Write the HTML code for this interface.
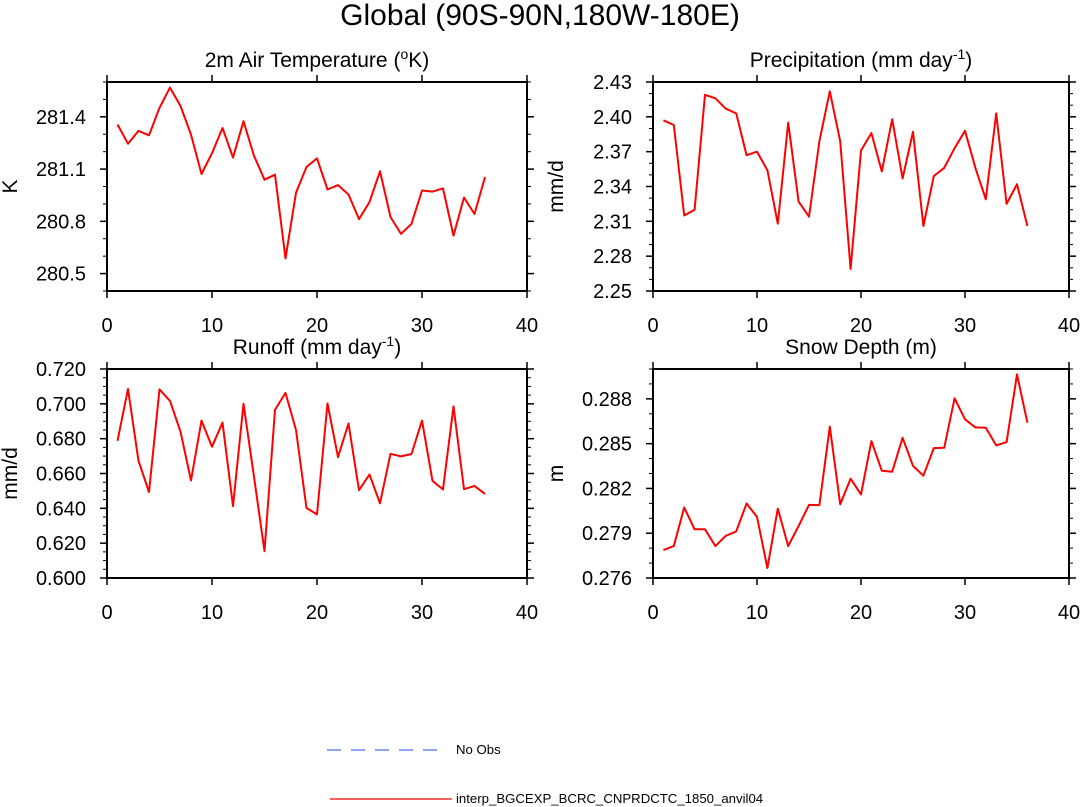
<!DOCTYPE html>
<html><head><meta charset="utf-8">
<style>
html,body{margin:0;padding:0;background:#fff;}
svg{display:block;font-family:"Liberation Sans",Arial,sans-serif;}
</style></head>
<body>
<svg id="chart" width="1081" height="807" viewBox="0 0 1081 807" xmlns="http://www.w3.org/2000/svg">
<text x="540" y="25" text-anchor="middle" font-size="30">Global (90S-90N,180W-180E)</text>
<g>
<line x1="327" y1="750" x2="441" y2="750" stroke="#4f6cf5" stroke-width="1.2" stroke-dasharray="14,10"/>
<text x="456" y="754" font-size="13.2">No Obs</text>
<line x1="330" y1="799" x2="452" y2="799" stroke="#ff0000" stroke-width="1.2"/>
<text x="456" y="803" font-size="13.2">interp_BGCEXP_BCRC_CNPRDCTC_1850_anvil04</text>
</g>
</svg>
<script>
const xTicks = [0, 10, 20, 30, 40];
const tempValues = [281.356,281.246,281.319,281.294,281.452,281.568,281.462,281.298,281.072,281.191,281.336,281.166,281.375,281.176,281.039,281.068,280.587,280.964,281.112,281.162,280.983,281.008,280.954,280.813,280.911,281.087,280.825,280.728,280.786,280.977,280.971,280.989,280.718,280.937,280.842,281.054];
const precValues = [2.397,2.393,2.315,2.320,2.419,2.416,2.407,2.403,2.367,2.370,2.354,2.308,2.395,2.327,2.314,2.379,2.422,2.379,2.269,2.371,2.386,2.353,2.398,2.347,2.387,2.306,2.349,2.356,2.373,2.388,2.356,2.329,2.403,2.325,2.342,2.306];
const runoffValues = [0.6788,0.7085,0.6673,0.6494,0.7083,0.7017,0.6840,0.6560,0.6904,0.6754,0.6892,0.6413,0.7000,0.6581,0.6154,0.6965,0.7063,0.6850,0.6402,0.6365,0.7002,0.6694,0.6887,0.6504,0.6594,0.6429,0.6713,0.6698,0.6712,0.6904,0.6558,0.6508,0.6985,0.6510,0.6529,0.6483];
const snowValues = [0.27787,0.27814,0.28072,0.27926,0.27926,0.27814,0.27883,0.27912,0.28099,0.28009,0.27667,0.28065,0.27814,0.27948,0.28090,0.28088,0.28614,0.28094,0.28265,0.28160,0.28517,0.28319,0.28312,0.28539,0.28351,0.28285,0.28470,0.28472,0.28804,0.28663,0.28609,0.28607,0.28488,0.28510,0.28964,0.28640];
const tempTicks = ["280.5","280.8","281.1","281.4"];
const precTicks = ["2.25","2.28","2.31","2.34","2.37","2.40","2.43"];
const runoffTicks = ["0.600","0.620","0.640","0.660","0.680","0.700","0.720"];
const snowTicks = ["0.276","0.279","0.282","0.285","0.288"];

const NS = "http://www.w3.org/2000/svg";
const svg = document.getElementById('chart');
function mk(tag, attrs, parent) {
  const e = document.createElementNS(NS, tag);
  for (const k in attrs) e.setAttribute(k, attrs[k]);
  (parent || svg).appendChild(e);
  return e;
}
const panels = [
  {name:'temperature', title:'2m Air Temperature (°K)', sup:null, ylab:'K', x0:107, x1:527, y0:82, y1:291, ymin:280.4, ymax:281.6, ticks:tempTicks, minor:0.1, vals:tempValues},
  {name:'precipitation', title:'Precipitation (mm day', sup:'-1', ylab:'mm/d', x0:653, x1:1069, y0:82, y1:291, ymin:2.25, ymax:2.43, ticks:precTicks, minor:0.01, vals:precValues},
  {name:'runoff', title:'Runoff (mm day', sup:'-1', ylab:'mm/d', x0:107, x1:527, y0:369, y1:578, ymin:0.600, ymax:0.720, ticks:runoffTicks, minor:0.005, vals:runoffValues},
  {name:'snow-depth', title:'Snow Depth (m)', sup:null, ylab:'m', x0:653, x1:1069, y0:369, y1:578, ymin:0.276, ymax:0.290, ticks:snowTicks, minor:0.001, vals:snowValues}
];
panels.forEach(p => {
  const g = mk('g', {});
  
  
  const sx = v => p.x0 + (v - 0) / 40 * (p.x1 - p.x0);
  const sy = v => p.y1 - (v - p.ymin) / (p.ymax - p.ymin) * (p.y1 - p.y0);
  const t = mk('text', {x:(p.x0+p.x1)/2, y:p.y0-15, 'text-anchor':'middle', 'font-size':21}, g);
  
  
  if (p.name === 'temperature') {
    t.appendChild(document.createTextNode('2m Air Temperature ('));
    const s = mk('tspan', {'font-size':14, dy:-8}, t); s.textContent = 'o';
    const r = mk('tspan', {dy:8}, t); r.textContent = 'K)';
  } else if (p.sup) {
    t.appendChild(document.createTextNode(p.title));
    const s = mk('tspan', {'font-size':14, dy:-8}, t); s.textContent = p.sup;
    const r = mk('tspan', {dy:8}, t); r.textContent = ')';
  } else t.textContent = p.title;
  const yl = mk('text', {x:0, y:0, 'text-anchor':'middle', 'font-size':21, transform:`translate(${p.x0-90},${(p.y0+p.y1)/2}) rotate(-90)`}, g);
  
  
  yl.textContent = p.ylab;
  for (let v = p.ymin; v <= p.ymax + 1e-9; v += p.minor) {
    const y = sy(v);
    mk('line', {x1:p.x0-4, x2:p.x0, y1:y, y2:y, stroke:'#000', 'stroke-width':1}, g);
    mk('line', {x1:p.x1, x2:p.x1+4, y1:y, y2:y, stroke:'#000', 'stroke-width':1}, g);
  }
  p.ticks.forEach(lbl => {
    const y = sy(parseFloat(lbl));
    mk('line', {x1:p.x0-7, x2:p.x0, y1:y, y2:y, stroke:'#000', 'stroke-width':1.5}, g);
    mk('line', {x1:p.x1, x2:p.x1+7, y1:y, y2:y, stroke:'#000', 'stroke-width':1.5}, g);
    const tl = mk('text', {x:p.x0-21, y:y+7, 'text-anchor':'end', 'font-size':20}, g);
    
    
    tl.textContent = lbl;
  });
  xTicks.forEach(v => {
    const x = sx(v);
    mk('line', {x1:x, x2:x, y1:p.y1, y2:p.y1+7, stroke:'#000', 'stroke-width':1.5}, g);
    mk('line', {x1:x, x2:x, y1:p.y0-7, y2:p.y0, stroke:'#000', 'stroke-width':1.5}, g);
    const tl = mk('text', {x:x, y:p.y1+41, 'text-anchor':'middle', 'font-size':20}, g);
    
    
    tl.textContent = String(v);
  });
  const fr = mk('rect', {x:p.x0, y:p.y0, width:p.x1-p.x0, height:p.y1-p.y0, fill:'none', stroke:'#000', 'stroke-width':2}, g);
  
  
  const pts = p.vals.map((v, i) => sx(i + 1).toFixed(1) + ',' + sy(v).toFixed(1)).join(' ');
  const pl = mk('polyline', {points:pts, fill:'none', stroke:'#ff0000', 'stroke-width':2, 'stroke-linejoin':'round'}, g);
  
  
});
</script>
</body></html>
